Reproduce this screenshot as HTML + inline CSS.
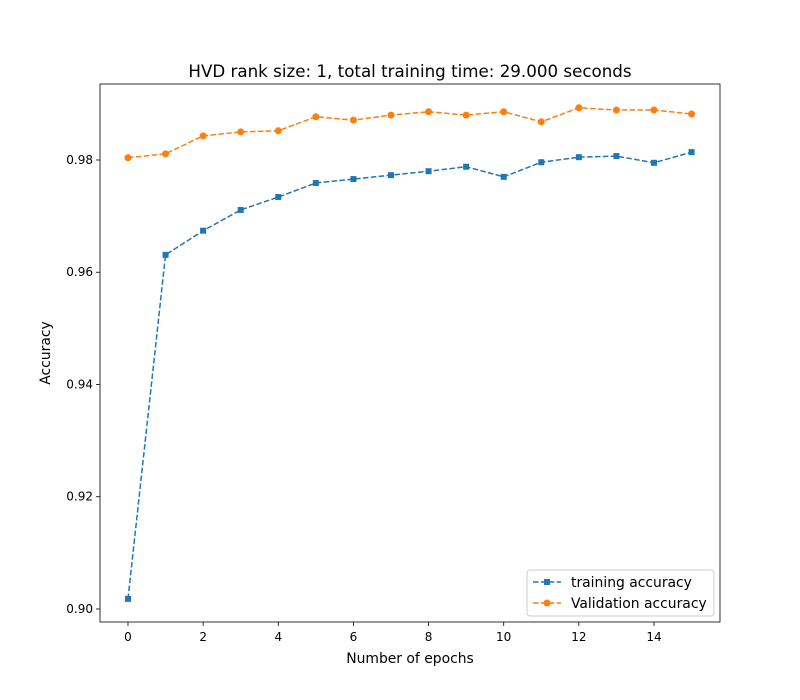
<!DOCTYPE html>
<html><head><meta charset="utf-8"><style>
html,body{margin:0;padding:0;background:#fff}
svg{display:block;font-family:"DejaVu Sans","Liberation Sans",sans-serif}
</style></head><body>
<svg id="chart" width="800" height="700" xmlns="http://www.w3.org/2000/svg"></svg>
<script>
const epochs=[0,1,2,3,4,5,6,7,8,9,10,11,12,13,14,15];
const trainAcc=[0.9018,0.9631,0.9674,0.9711,0.9734,0.9759,0.9766,0.9773,0.9780,0.9788,0.9770,0.9796,0.9805,0.9807,0.9795,0.9814];
const valAcc=[0.9804,0.9811,0.9843,0.9850,0.9852,0.9877,0.9871,0.9880,0.9886,0.9880,0.9886,0.9868,0.9893,0.9889,0.9889,0.9882];
const xTicks=[0,2,4,6,8,10,12,14];
const yTicks=[0.90,0.92,0.94,0.96,0.98];
const L=100,R=720,T=84,B=622;
const xMin=-0.745,xMax=15.757,yMin=0.89768,yMax=0.99354;
const X=v=>L+(v-xMin)/(xMax-xMin)*(R-L);
const Y=v=>B-(v-yMin)/(yMax-yMin)*(B-T);
const svg=document.getElementById('chart');
const NS='http://www.w3.org/2000/svg';
function mk(tag,attrs,parent){const e=document.createElementNS(NS,tag);for(const k in attrs)e.setAttribute(k,attrs[k]);(parent||svg).appendChild(e);return e;}
function txt(s,attrs){const e=mk('text',attrs);e.textContent=s;return e;}
let t=txt('HVD rank size: 1, total training time: 29.000 seconds',{x:410,y:77,'text-anchor':'middle','font-size':16.7,fill:'#000'});


xTicks.forEach(v=>{
 const l=mk('line',{x1:X(v),x2:X(v),y1:B,y2:B+4,stroke:'#000','stroke-width':0.8});
 
 
 const s=txt(String(v),{x:X(v),y:B+19,'text-anchor':'middle','font-size':12,fill:'#000'});
 
 
});
yTicks.forEach(v=>{
 const l=mk('line',{x1:L-4,x2:L,y1:Y(v),y2:Y(v),stroke:'#000','stroke-width':0.8});
 
 
 const s=txt(v.toFixed(2),{x:L-7,y:Y(v)+4,'text-anchor':'end','font-size':12,fill:'#000'});
 
 
});
t=txt('Number of epochs',{x:410,y:663,'text-anchor':'middle','font-size':13.9,fill:'#000'});


t=txt('Accuracy',{x:50,y:353,'text-anchor':'middle','font-size':13.9,fill:'#000',transform:'rotate(-90 50 353)'});


function series(vals,color,marker,name){
 const p=mk('polyline',{points:epochs.map((e,i)=>X(e)+','+Y(vals[i])).join(' '),fill:'none',stroke:color,'stroke-width':1.5,'stroke-dasharray':'5.5,2.4'});
 
 
 epochs.forEach((e,i)=>{
  let m;
  if(marker==='s')m=mk('rect',{x:X(e)-3,y:Y(vals[i])-3,width:6,height:6,fill:color});
  else m=mk('circle',{cx:X(e),cy:Y(vals[i]),r:3.5,fill:color});
  
  
 });
}
series(trainAcc,'#1f77b4','s','training-accuracy');
series(valAcc,'#ff7f0e','o','validation-accuracy');
const frame=mk('rect',{x:L,y:T,width:R-L,height:B-T,fill:'none',stroke:'#000','stroke-width':0.8});


const lg=mk('g',{});


mk('rect',{x:527,y:570,width:187,height:46,rx:3,fill:'#fff',stroke:'#ccc','stroke-width':1},lg);
[['training accuracy','#1f77b4','s',582],['Validation accuracy','#ff7f0e','o',603]].forEach(([lab,c,m,y])=>{
 const g=mk('g',{},lg);
 
 
 mk('line',{x1:533,x2:561,y1:y,y2:y,stroke:c,'stroke-width':1.5,'stroke-dasharray':'5.5,2.4'},g);
 if(m==='s')mk('rect',{x:544,y:y-3,width:6,height:6,fill:c},g);else mk('circle',{cx:547,cy:y,r:3.5,fill:c},g);
 const s=mk('text',{x:571,y:y+5,'font-size':13.9,fill:'#000'},g);s.textContent=lab;
});
</script>
</body></html>
